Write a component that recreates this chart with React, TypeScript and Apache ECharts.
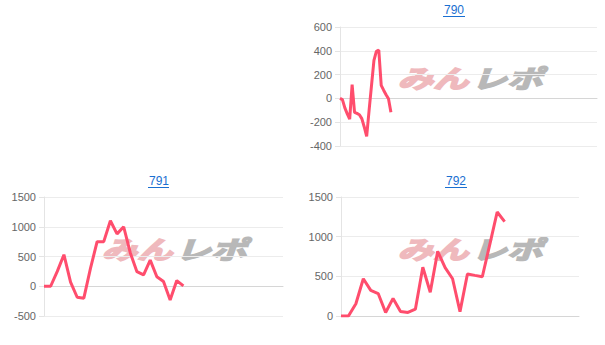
import React, { useEffect, useRef } from "react";
import * as echarts from "echarts";

// ---- data ----
const titles = ["790", "791", "792"];
const values790 = [0, -10, -80, -130, -175, 115, -117, -126, -137, -170, -240, -320, -100, 110, 320, 395, 406, 110, 69, 31, -3, -117];
const values791 = [0, 0, 250, 530, 70, -185, -200, 300, 750, 750, 1100, 880, 1000, 560, 245, 190, 440, 160, 80, -230, 95, 5];
const values792 = [0, 0, 155, 470, 323, 283, 45, 222, 57, 45, 86, 615, 300, 815, 610, 470, 55, 530, 512, 495, 900, 1311, 1190];
const categoryCounts = [107, 37, 33];
const yMins = [-400, -500, 0];
const yMaxs = [600, 1500, 1500];
const yIntervals = [200, 500, 500];
const seriesValues = [values790, values791, values792];

// ---- layout ----
const grids = [
  { left: 340, top: 27, width: 257, height: 119 },
  { left: 44, top: 197, width: 239, height: 119 },
  { left: 341, top: 197, width: 238, height: 119 },
];
const titlePos = [
  { x: 454, y: 4, ux1: 443, ux2: 465, uy: 16.5 },
  { x: 159, y: 175, ux1: 148, ux2: 169, uy: 187.5 },
  { x: 456, y: 175, ux1: 445, ux2: 467, uy: 187.5 },
];
const marks = [
  { x: 470, y: 77 },
  { x: 174, y: 248 },
  { x: 470, y: 248 },
];

const FONT = "'Liberation Sans', Arial, sans-serif";
const LINK = "#1a6fd1";

export default function App() {
  const ref = useRef<HTMLDivElement>(null);
  useEffect(() => {
    if (!ref.current) return;
    const chart = echarts.init(ref.current, undefined, { renderer: "svg" });
    const graphic: any[] = [];
    titlePos.forEach((t) => {
      graphic.push({
        type: "line",
        z: 5,
        shape: { x1: t.ux1, y1: t.uy, x2: t.ux2, y2: t.uy },
        style: { stroke: LINK, lineWidth: 1 },
      });
    });
    const markText = (text: string, x: number, align: string, color: string) => ({
      type: "text",
      x,
      y: 0,
      style: {
        text,
        fontSize: 25,
        fontWeight: "bold",
        fontStyle: "italic",
        fontFamily: "'Noto Sans CJK JP', sans-serif",
        fill: color,
        stroke: color,
        lineWidth: 1.6,
        align,
        verticalAlign: "middle",
        textAlign: align,
        textVerticalAlign: "middle",
      },
    });
    marks.forEach((m) => {
      graphic.push({
        type: "group",
        x: m.x,
        y: m.y,
        scaleX: 1.42,
        z: 1,
        children: [
          markText("みん", -1, "right", "#efb9bd"),
          markText("レポ", 1, "left", "#b8b8b8"),
        ],
      });
    });

    const option: any = {
      animation: false,
      title: titles.map((t, i) => ({
        text: t,
        left: titlePos[i].x,
        top: titlePos[i].y,
        textAlign: "center",
        padding: 0,
        textStyle: { fontSize: 12, fontWeight: "normal", color: LINK, fontFamily: FONT },
      })),
      grid: grids.map((g) => ({ ...g, containLabel: false })),
      xAxis: categoryCounts.map((n, i) => ({
        type: "category",
        gridIndex: i,
        boundaryGap: false,
        data: Array.from({ length: n }, (_, k) => String(k + 1)),
        axisLabel: { show: false },
        axisTick: { show: false },
        axisLine: { show: true, onZero: true, lineStyle: { color: "#d6d6d6", width: 1 } },
        splitLine: { show: false },
      })),
      yAxis: yMins.map((mn, i) => ({
        type: "value",
        gridIndex: i,
        min: mn,
        max: yMaxs[i],
        interval: yIntervals[i],
        axisLine: { show: true, lineStyle: { color: "#e4e4e4" } },
        axisTick: { show: true, length: 5, lineStyle: { color: "#e4e4e4" } },
        axisLabel: {
          color: "#666",
          fontSize: 11,
          fontFamily: FONT,
          margin: 8,
          formatter: (v: number) => String(v),
        },
        splitLine: { show: true, lineStyle: { color: "#ececec", width: 1 } },
      })),
      series: seriesValues.map((v, i) => ({
        type: "line",
        xAxisIndex: i,
        yAxisIndex: i,
        data: v,
        showSymbol: false,
        symbol: "none",
        z: 3,
        lineStyle: { color: "#ff4d6d", width: 3 },
        itemStyle: { color: "#ff4d6d" },
      })),
      graphic,
    };
    chart.setOption(option);
    return () => chart.dispose();
  }, []);
  return (
    <div
      ref={ref}
      style={{ position: "fixed", left: 0, top: 0, width: 605, height: 345, background: "#fff" }}
    />
  );
}
